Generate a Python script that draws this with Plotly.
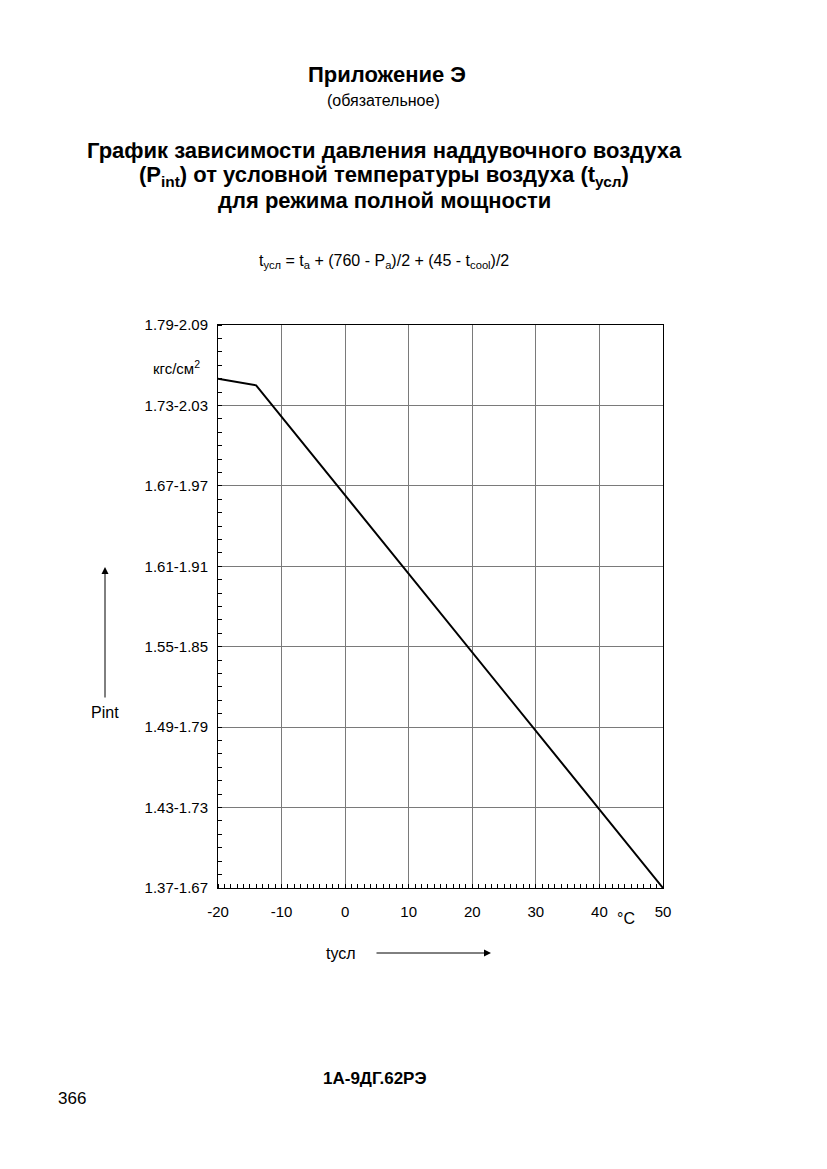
import plotly.graph_objects as go

# chart data
t_usl = [-20, -14, 50]
p_int = [1.750, 1.745, 1.370]

x_ticks = [-20, -10, 0, 10, 20, 30, 40, 50]
y_ticks = [1.37, 1.43, 1.49, 1.55, 1.61, 1.67, 1.73, 1.79]
y_labels = ["1.37-1.67", "1.43-1.73", "1.49-1.79", "1.55-1.85",
            "1.61-1.91", "1.67-1.97", "1.73-2.03", "1.79-2.09"]

FONT = "Arial, Liberation Sans, sans-serif"

# the page body has an 8px margin, so the figure is drawn 8px in
OFF = 8
W, H = 827 - 2 * OFF, 1169 - 2 * OFF
# page geometry (px) of the plot box
L, R, T, B = 218 - OFF, 663 - OFF, 325 - OFF, 888 - OFF


def px(x):
    return (x - OFF - L) / (R - L)


def py(y):
    return (B - (y - OFF)) / (B - T)


fig = go.Figure()
fig.add_trace(go.Scatter(
    x=t_usl, y=p_int, mode="lines",
    line=dict(color="black", width=2),
    showlegend=False, hoverinfo="skip"))

fig.update_layout(
    width=W, height=H,
    margin=dict(l=L, r=W - R, t=T, b=H - B, pad=0),
    paper_bgcolor="white", plot_bgcolor="white",
    font=dict(family=FONT, size=15, color="black"),
    xaxis=dict(
        range=[-20, 50], tickvals=x_ticks,
        ticktext=[str(v) for v in x_ticks],
        showgrid=True, gridcolor="#7a7a7a", gridwidth=1,
        showline=True, linecolor="black", linewidth=1, mirror=True,
        ticks="", zeroline=False, ticklabelstandoff=10,
        minor=dict(dtick=1, ticks="inside", ticklen=4, tickcolor="black",
                   showgrid=False),
        tickfont=dict(size=15)),
    yaxis=dict(
        range=[1.37, 1.79], tickvals=y_ticks, ticktext=y_labels,
        showgrid=True, gridcolor="#7a7a7a", gridwidth=1,
        showline=True, linecolor="black", linewidth=1, mirror=True,
        ticks="", zeroline=False, ticklabelstandoff=6,
        minor=dict(dtick=0.01, ticks="inside", ticklen=4, tickcolor="black",
                   showgrid=False),
        tickfont=dict(size=15)),
)

texts = [
    ("<b>Приложение Э</b>", 387, 74, 22),
    ("(обязательное)", 383, 101, 16),
    ("<b>График зависимости давления наддувочного воздуха</b>", 384, 151, 22),
    ("<b>(P<sub>int</sub>) от условной температуры воздуха (t<sub>усл</sub>)</b>", 384, 176, 22),
    ("<b>для режима полной мощности</b>", 384, 201, 22),
    ("t<sub>усл</sub> = t<sub>a</sub> + (760 - P<sub>a</sub>)/2 + (45 - t<sub>cool</sub>)/2", 384, 261, 16),
    ("кгс/см<sup>2</sup>", 176, 367, 15),
    ("°C", 626, 918, 16),
    ("Pint", 105, 712, 16),
    ("tусл", 341, 953, 16),
    ("<b>1А-9ДГ.62РЭ</b>", 375, 1078, 17),
    ("366", 72, 1098, 17),
]
for txt, x, y, size in texts:
    fig.add_annotation(
        text=txt, x=px(x), y=py(y), xref="paper", yref="paper",
        showarrow=False, xanchor="center", yanchor="middle",
        font=dict(family=FONT, size=size, color="black"))

# axis direction arrows
fig.add_annotation(
    x=px(105), y=py(567), xref="paper", yref="paper", text="",
    showarrow=True, ax=0, ay=132, arrowhead=2, arrowsize=1.4,
    arrowwidth=1, arrowcolor="black")
fig.add_annotation(
    x=px(491), y=py(953), xref="paper", yref="paper", text="",
    showarrow=True, ax=-116, ay=0, arrowhead=2, arrowsize=1.4,
    arrowwidth=1, arrowcolor="black")

fig.write_html("out.html")
